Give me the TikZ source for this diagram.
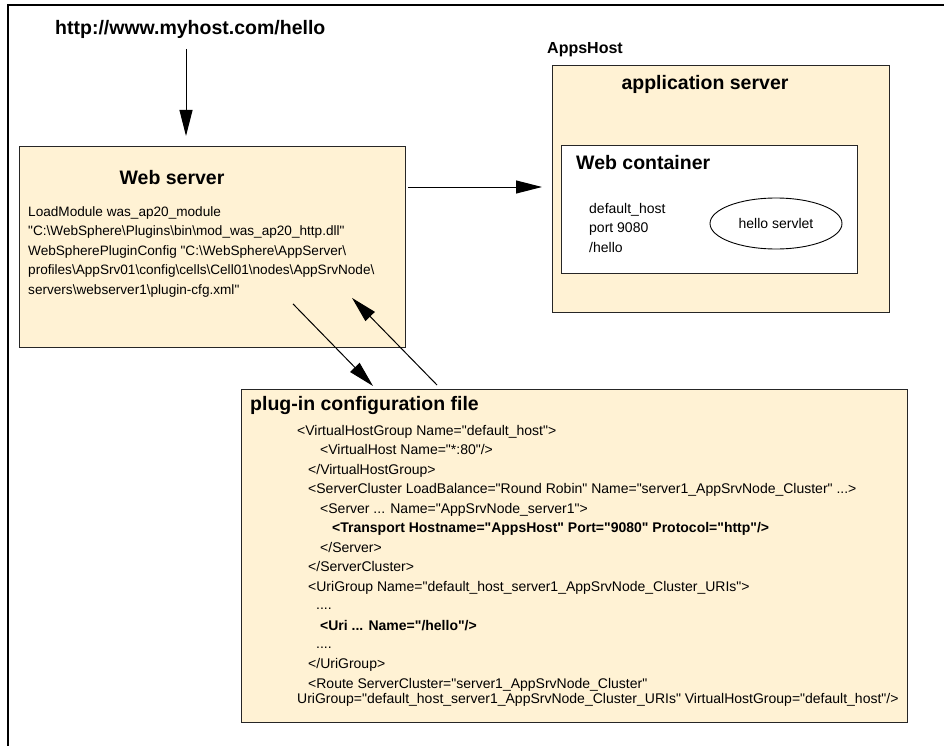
\documentclass[tikz,border=0pt]{standalone}
\usepackage{fontspec}
\newfontfamily\ls{Liberation Sans}
\usetikzlibrary{shapes.geometric,arrows.meta,calc}
\definecolor{cream}{RGB}{255,242,212}
\begin{document}
\begin{tikzpicture}[x=1pt,y=-1pt,
  box/.style={draw=black!85, line width=0.9pt, fill=cream, inner sep=0pt, anchor=north west},
  arr/.style={line width=1pt, -{Triangle[length=26pt,width=13pt]}},
  ttl/.style={font=\ls\fontsize{19.5}{22}\selectfont\bfseries, inner sep=0pt},
  txt/.style={font=\ls\fontsize{14}{16}\selectfont, inner sep=0pt, anchor=base west},
  btxt/.style={font=\ls\fontsize{14}{16}\selectfont\bfseries, inner sep=0pt, anchor=base west},
  wtxt/.style={font=\ls\fontsize{13.6}{16}\selectfont, inner sep=0pt, anchor=base west},
]
\useasboundingbox (0,0) rectangle (944,746);
% frame
\draw[line width=1.4pt] (8,746) -- (8,5) -- (944,5);

% boxes
\node[box, minimum width=386pt, minimum height=201pt] (ws) at (19,146) {};
\node[box, minimum width=337pt, minimum height=247pt] (app) at (552,65) {};
\node[box, fill=white, minimum width=296pt, minimum height=128pt] (wc) at (561,145) {};
\node[box, minimum width=666pt, minimum height=333pt] (cfg) at (241,389) {};

% labels
\node[ttl, anchor=base west] (url) at (55,35) {http://www.myhost.com/hello};
\node[inner sep=0pt, anchor=base west, font=\ls\fontsize{16}{18}\selectfont\bfseries] (appshost) at (547,54) {AppsHost};
\node[ttl, anchor=base] (wstitle) at (172,184) {Web server};
\node[ttl, anchor=base] (apptitle) at (705,90) {application server};
\node[ttl, anchor=base west] (wctitle) at (576,170) {Web container};
\node[ttl, anchor=base west] (cfgtitle) at (250,410) {plug-in configuration file};

% web server text
\node[wtxt] (w1) at (28,216) {LoadModule was\_ap20\_module};
\node[wtxt] (w2) at (28,235.5) {"C:\textbackslash WebSphere\textbackslash Plugins\textbackslash bin\textbackslash mod\_was\_ap20\_http.dll"};
\node[wtxt] (w3) at (28,255) {WebSpherePluginConfig "C:\textbackslash WebSphere\textbackslash AppServer\textbackslash};
\node[wtxt] (w4) at (28,274.5) {profiles\textbackslash AppSrv01\textbackslash config\textbackslash cells\textbackslash Cell01\textbackslash nodes\textbackslash AppSrvNode\textbackslash};
\node[wtxt] (w5) at (28,294) {servers\textbackslash webserver1\textbackslash plugin-cfg.xml"};

% web container text
\node[txt] (c1) at (589,213) {default\_host};
\node[txt] (c2) at (589,232) {port 9080};
\node[txt] (c3) at (589,252) {/hello};
\node[draw=black, line width=0.9pt, ellipse, minimum width=132pt, minimum height=51pt, inner sep=0pt,
      font=\ls\fontsize{14}{16}\selectfont] (servlet) at (776,223.5) {hello servlet};

% plug-in config text
\node[txt] (p0) at (297,435) {<VirtualHostGroup Name="default\_host">};
\node[txt] (p1) at (320,454.5) {<VirtualHost Name="*:80"/>};
\node[txt] (p2) at (308,474) {</VirtualHostGroup>};
\node[txt] (p3) at (308,493.5) {<ServerCluster LoadBalance="Round Robin" Name="server1\_AppSrvNode\_Cluster" ...>};
\node[txt] (p4) at (320,513) {<Server ... Name="AppSrvNode\_server1">};
\node[btxt] (p5) at (332,532.5) {<Transport Hostname="AppsHost" Port="9080" Protocol="http"/>};
\node[txt] (p6) at (320,552) {</Server>};
\node[txt] (p7) at (308,571) {</ServerCluster>};
\node[txt] (p8) at (308,591) {<UriGroup Name="default\_host\_server1\_AppSrvNode\_Cluster\_URIs">};
\node[txt] (p9) at (316,609) {....};
\node[btxt] (p10) at (320,630) {<Uri ... Name="/hello"/>};
\node[txt] (p11) at (316,648) {....};
\node[txt] (p12) at (308,668) {</UriGroup>};
\node[txt] (p13) at (308,688) {<Route ServerCluster="server1\_AppSrvNode\_Cluster"};
\node[txt] (p14) at (297,703) {UriGroup="default\_host\_server1\_AppSrvNode\_Cluster\_URIs" VirtualHostGroup="default\_host"/>};

% connectors
\coordinate (urlarr) at (186,49);
\draw[arr, shorten >=10pt] (urlarr) -- (urlarr |- ws.north);
\draw[arr, shorten <=2pt, shorten >=10pt] ([yshift=-41pt]ws.north east) -- ([yshift=-41pt]ws.north east -| app.west);
\draw[arr] ($(ws.south west)+(274,-44)$) -- ($(cfg.north west)+(132,-3)$);
\draw[arr] ($(cfg.north west)+(196,-4)$) -- ($(ws.south west)+(333,-50)$);
\end{tikzpicture}
\end{document}
